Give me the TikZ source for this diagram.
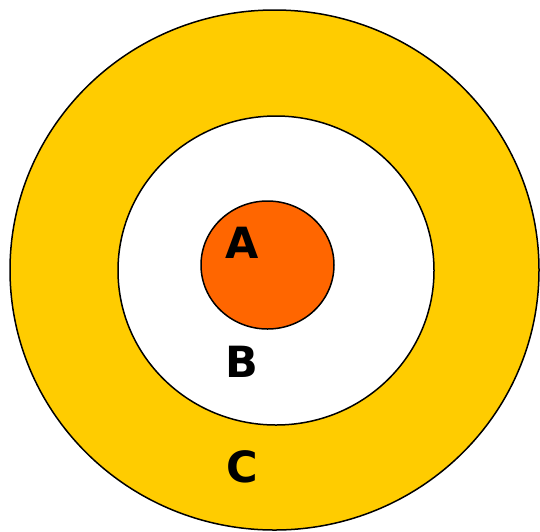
\documentclass[tikz,border=0pt]{standalone}
\usepackage{fontspec}
\setmainfont{DejaVu Sans}
\definecolor{ringyellow}{HTML}{FFCC00}
\definecolor{coreorange}{HTML}{FF6600}
\begin{document}
\begin{tikzpicture}[x=1pt,y=-1pt,
  ring/.style={draw=black,line width=1.5pt},
  lbl/.style={font=\bfseries\fontsize{43}{43}\selectfont,inner sep=0pt}]
\useasboundingbox (0,0) rectangle (540,531);
\path[ring,fill=ringyellow] (274.5,270) ellipse [x radius=264.5,y radius=260];
\path[ring,fill=white] (276,270.5) ellipse [x radius=158,y radius=154.5];
\path[ring,fill=coreorange] (267.5,265) ellipse [x radius=66.5,y radius=64];
\node[lbl] (A) at (242,243) {A};
\node[lbl] (B) at (242,362) {B};
\node[lbl] (C) at (242,467) {C};
\end{tikzpicture}
\end{document}
